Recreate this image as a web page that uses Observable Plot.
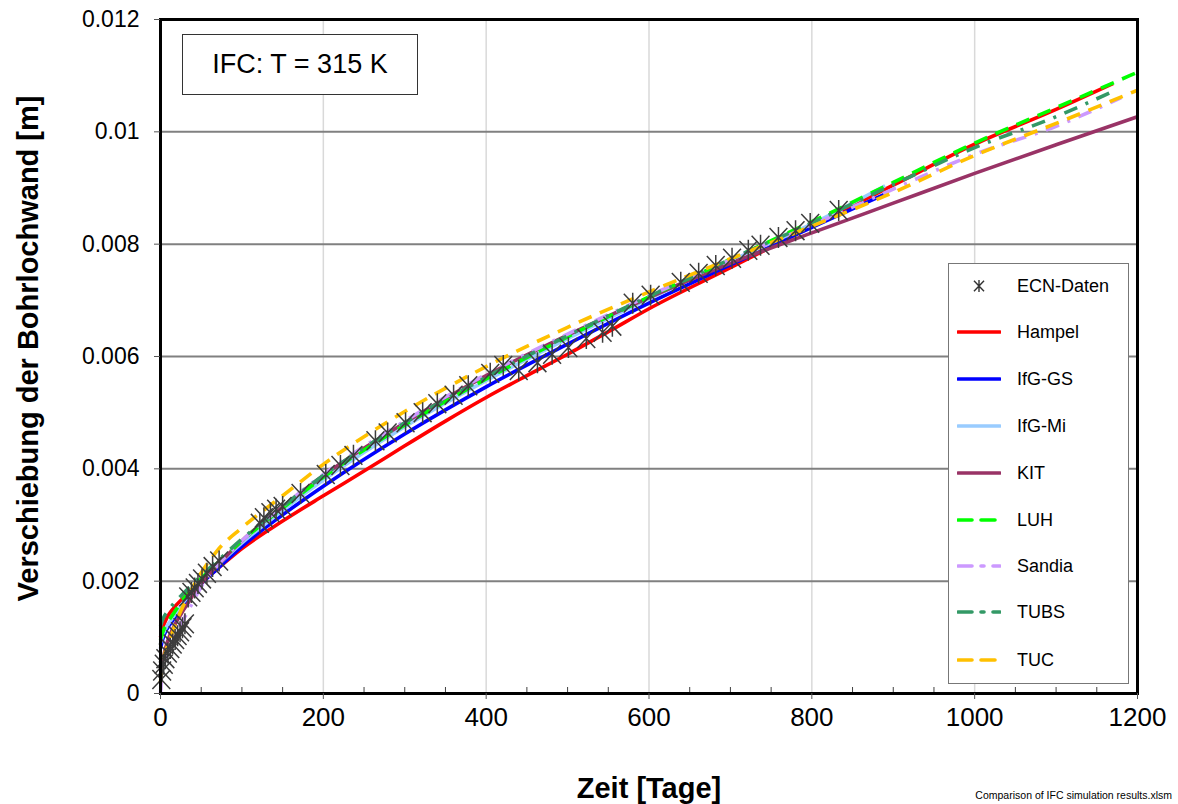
<!DOCTYPE html>
<html>
<head>
<meta charset="utf-8">
<script src="https://cdn.jsdelivr.net/npm/d3@7"></script>
<script src="https://cdn.jsdelivr.net/npm/@observablehq/plot@0.6"></script>
<style>
  html, body { margin: 0; padding: 0; background: #fff; }
  #wrap { position: relative; width: 1178px; height: 804px; font-family: "Liberation Sans", Arial, sans-serif; }
  #wrap svg.plot { position: absolute; left: 0; top: 0; }
  #titlebox { position: absolute; left: 182px; top: 34px; width: 234px; height: 59px; border: 1.5px solid #333; background: #fff;
    display: flex; align-items: center; justify-content: center; font-size: 27px; color: #000; }
  #legend { position: absolute; left: 948px; top: 263px; width: 179px; height: 419px; border: 1px solid #777; background: #fff; }
  .li { position: absolute; left: 0; height: 20px; display: flex; align-items: center; font-size: 18px; color: #000; }
  .li svg { margin-left: 8px; margin-right: 16px; }
  #caption { position: absolute; right: 6px; top: 789px; font-family: "Liberation Sans Narrow", "Arial Narrow", "Liberation Sans", sans-serif; font-size: 10.5px; color: #000; }
</style>
</head>
<body>
<div id="wrap"></div>
<script>
// ---------- data ----------
const ecnDays = [1,2,4,6,9,12,15,18,21,24,27,30,34,38,42,46,51,57,64,72,122,127,135,142,150,172,203,221,237,264,279,301,322,340,360,378,405,421,440,463,481,501,523,543,555,580,602,639,661,682,702,722,737,759,780,798,833];
const ecnVals = [0.00025,0.00040,0.00052,0.00062,0.00072,0.00080,0.00088,0.00096,0.00103,0.00110,0.00117,0.00124,0.00172,0.00180,0.00188,0.00196,0.00204,0.00214,0.00226,0.00236,0.00303,0.00313,0.00322,0.00328,0.00333,0.00356,0.00390,0.00406,0.00424,0.00450,0.00464,0.00482,0.00500,0.00516,0.00531,0.00548,0.00570,0.00584,0.00575,0.00589,0.00604,0.00616,0.00632,0.00643,0.00654,0.00695,0.00709,0.00732,0.00748,0.00762,0.00775,0.00789,0.00798,0.00812,0.00824,0.00837,0.00860];

const hampelDays = [0,3,8,15,28,50,70,100,150,200,250,300,350,400,450,500,550,600,700,800,900,1000,1100,1170];
const hampelVals = [0.00100,0.00118,0.00135,0.00150,0.00170,0.00198,0.00222,0.00258,0.00307,0.00352,0.00396,0.00441,0.00485,0.00527,0.00566,0.00604,0.00644,0.00685,0.00758,0.00832,0.00905,0.00978,0.01040,0.01086];

const ifgGsDays = [0,3,8,15,28,50,70,100,150,200,300,400,500,600,700,800,894];
const ifgGsVals = [0.00080,0.00098,0.00115,0.00130,0.00158,0.00195,0.00222,0.00262,0.00318,0.00369,0.00462,0.00546,0.00622,0.00695,0.00763,0.00830,0.00892];

const ifgMiDays = [0,3,8,15,28,50,70,100,150,200,300,400,500,600,700,800,890];
const ifgMiVals = [0.00090,0.00105,0.00120,0.00135,0.00162,0.00200,0.00228,0.00268,0.00326,0.00380,0.00475,0.00557,0.00632,0.00703,0.00770,0.00836,0.00904];

const kitDays = [0,3,8,15,28,50,70,100,150,200,300,400,500,600,700,800,900,1000,1100,1200];
const kitVals = [0.00030,0.00060,0.00090,0.00115,0.00148,0.00195,0.00228,0.00272,0.00332,0.00388,0.00482,0.00566,0.00638,0.00705,0.00766,0.00820,0.00873,0.00926,0.00977,0.01027];

const luhDays = [0,3,8,15,28,50,70,100,150,200,300,400,500,600,700,800,900,1000,1100,1200];
const luhVals = [0.00095,0.00110,0.00125,0.00140,0.00168,0.00205,0.00232,0.00272,0.00330,0.00385,0.00478,0.00560,0.00635,0.00706,0.00773,0.00840,0.00910,0.00980,0.01043,0.01106];

const sandiaDays = [0,2,5,10,20,35,50,70,100,150,200,300,400,500,600,700,800,900,1000,1100,1180];
const sandiaVals = [0,0.00040,0.00060,0.00080,0.00110,0.00150,0.00190,0.00228,0.00272,0.00333,0.00390,0.00485,0.00568,0.00640,0.00708,0.00772,0.00834,0.00898,0.00960,0.01010,0.01061];

const tubsDays = [0,3,8,15,28,50,70,100,150,200,300,400,500,600,700,800,900,1000,1100,1167];
const tubsVals = [0.00120,0.00133,0.00145,0.00158,0.00178,0.00210,0.00236,0.00275,0.00333,0.00388,0.00482,0.00563,0.00637,0.00707,0.00773,0.00838,0.00906,0.00972,0.01027,0.01070];

const tucDays = [0,2,5,10,20,40,70,100,150,200,300,400,500,600,700,800,900,1000,1100,1200];
const tucVals = [0.00020,0.00050,0.00070,0.00090,0.00130,0.00190,0.00255,0.00295,0.00352,0.00408,0.00502,0.00582,0.00652,0.00715,0.00774,0.00832,0.00892,0.00958,0.01015,0.01074];

const seriesNames = ["Hampel","IfG-GS","IfG-Mi","KIT","LUH","Sandia","TUBS","TUC"];
const xTicks = [0,200,400,600,800,1000,1200];
const yTicks = [0,0.002,0.004,0.006,0.008,0.01,0.012];

// ---------- styles ----------
const styles = {
  "Hampel": {stroke: "#ff0000", dash: null},
  "IfG-GS": {stroke: "#0000ff", dash: null},
  "IfG-Mi": {stroke: "#99ccff", dash: null},
  "KIT":    {stroke: "#993366", dash: null},
  "LUH":    {stroke: "#00ff00", dash: "14,9"},
  "Sandia": {stroke: "#cc99ff", dash: "14,9,3,9"},
  "TUBS":   {stroke: "#339966", dash: "14,9,3,9"},
  "TUC":    {stroke: "#ffc000", dash: "14,9"}
};
const seriesData = {
  "Hampel": [hampelDays, hampelVals],
  "IfG-GS": [ifgGsDays, ifgGsVals],
  "IfG-Mi": [ifgMiDays, ifgMiVals],
  "KIT": [kitDays, kitVals],
  "LUH": [luhDays, luhVals],
  "Sandia": [sandiaDays, sandiaVals],
  "TUBS": [tubsDays, tubsVals],
  "TUC": [tucDays, tucVals]
};
const ecn = ecnDays.map((d, i) => ({day: d, value: ecnVals[i]}));

// Excel-style star marker: an X with a vertical bar
const starSymbol = {
  draw(context, size) {
    const r = Math.sqrt(size / Math.PI);
    const dx = r * 0.85, dy = r * 0.9;
    context.moveTo(0, -r); context.lineTo(0, r);
    context.moveTo(-dx, -dy); context.lineTo(dx, dy);
    context.moveTo(-dx, dy); context.lineTo(dx, -dy);
  }
};

const lineMarks = seriesNames.map(name => {
  const [ds, vs] = seriesData[name];
  const rows = ds.map((d, i) => ({day: d, value: vs[i]}));
  return Plot.line(rows, {
    x: "day", y: "value", curve: "monotone-x",
    stroke: styles[name].stroke, strokeWidth: 3.6,
    strokeDasharray: styles[name].dash, strokeLinecap: "butt"
  });
});

const W = 1178, H = 804, mL = 160, mR = 41, mT = 19, mB = 111;
const plotH = H - mT - mB;
const minorTicks = d3.range(50, 1200, 50).filter(d => d % 200 !== 0);

const chart = Plot.plot({
  width: W, height: H,
  marginLeft: mL, marginRight: mR, marginTop: mT, marginBottom: mB,
  style: {fontFamily: "'Liberation Sans', Arial, sans-serif", background: "white", overflow: "visible"},
  x: {domain: [0, 1200]},
  y: {domain: [0, 0.012]},
  marks: [
    Plot.gridX(xTicks.slice(1, -1), {stroke: "#d9d9d9", strokeOpacity: 1, strokeWidth: 1.5}),
    Plot.gridY(yTicks.slice(1, -1), {stroke: "#808080", strokeOpacity: 1, strokeWidth: 2}),
    Plot.tickX(minorTicks, {x: d => d, stroke: "#404040", strokeWidth: 1, insetTop: plotH - 6}),
    ...lineMarks,
    Plot.dot(ecn, {x: "day", y: "value", symbol: starSymbol, r: 10.5, stroke: "#3c3c3c", strokeWidth: 1.5}),
    Plot.frame({stroke: "#000", strokeWidth: 3}),
    Plot.axisY(yTicks, {
      tickSize: 6, tickPadding: 15, stroke: "#555", fontSize: 23, fill: "#000",
      tickFormat: d => d === 0 ? "0" : String(+d.toFixed(3)), label: null
    }),
    Plot.axisX(xTicks, {
      tickSize: 6, tickPadding: 8, stroke: "#555", fontSize: 26, fill: "#000",
      fontFamily: "'Liberation Sans Narrow', 'Arial Narrow', 'Liberation Sans', sans-serif",
      tickFormat: d => String(d), label: null
    }),
    Plot.text(["Zeit [Tage]"], {
      frameAnchor: "bottom", dy: 104, lineAnchor: "bottom",
      fontSize: 29, fontWeight: "bold", fill: "#000",
      fontFamily: "'Liberation Sans Narrow', 'Arial Narrow', 'Liberation Sans', sans-serif"
    }),
    Plot.text(["Verschiebung der Bohrlochwand [m]"], {
      frameAnchor: "left", dx: -132, dy: -8, rotate: -90, textAnchor: "middle",
      fontSize: 29, fontWeight: "bold", fill: "#000"
    })
  ]
});
chart.classList.add("plot");

const wrap = document.getElementById("wrap");
wrap.appendChild(chart);

// title box
const tb = document.createElement("div");
tb.id = "titlebox";
tb.textContent = "IFC: T = 315 K";
wrap.appendChild(tb);

// legend
const legend = document.createElement("div");
legend.id = "legend";
const legendItems = ["ECN-Daten", ...seriesNames];
const rowTops = [12, 58, 105, 152, 199, 246, 292, 338, 386];
legendItems.forEach((name, i) => {
  const row = document.createElement("div");
  row.className = "li";
  row.style.top = rowTops[i] + "px";
  const ns = "http://www.w3.org/2000/svg";
  const s = document.createElementNS(ns, "svg");
  s.setAttribute("width", 44); s.setAttribute("height", 20);
  if (name === "ECN-Daten") {
    d3.select(s).append("path")
      .attr("transform", "translate(22,10)")
      .attr("d", d3.symbol(starSymbol, 110)())
      .attr("stroke", "#333").attr("stroke-width", 1.4).attr("fill", "none");
  } else {
    const st = styles[name];
    d3.select(s).append("line")
      .attr("x1", 1).attr("x2", 43).attr("y1", 10).attr("y2", 10)
      .attr("stroke", st.stroke).attr("stroke-width", 3.6)
      .attr("stroke-dasharray", st.dash)
      .attr("stroke-linecap", "round");
  }
  row.appendChild(s);
  const t = document.createElement("span");
  t.textContent = name;
  row.appendChild(t);
  legend.appendChild(row);
});
wrap.appendChild(legend);

const cap = document.createElement("div");
cap.id = "caption";
cap.textContent = "Comparison of IFC simulation results.xlsm";
wrap.appendChild(cap);
</script>
</body>
</html>
